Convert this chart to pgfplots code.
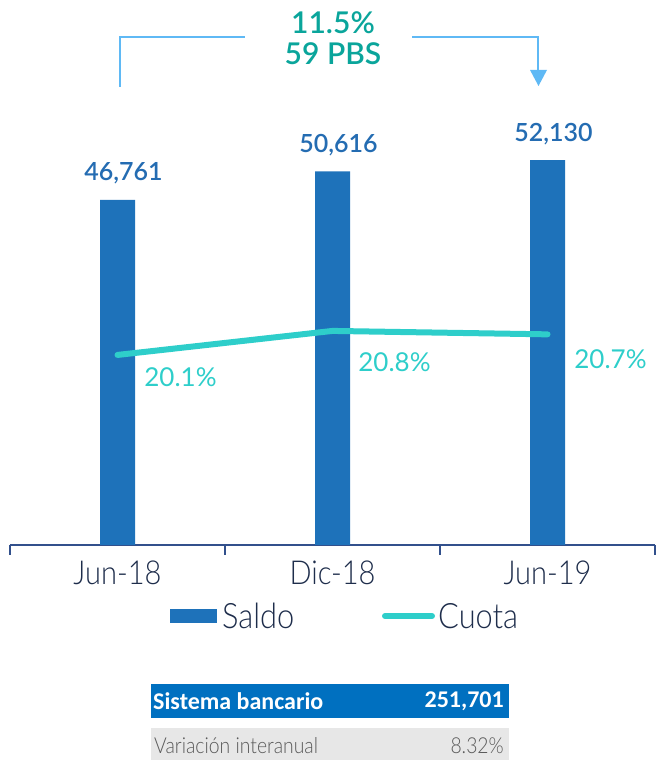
\documentclass[border=0pt]{standalone}
\usepackage{pgfplots}
\pgfplotsset{compat=1.18}
\usepackage{fontspec}
\setmainfont{Lato}
\IfFontExistsTF{Lato Light}{\newfontfamily\lightfont[FakeStretch=0.88]{Lato Light}}{\newfontfamily\lightfont[FakeStretch=0.88]{Lato}}
\IfFontExistsTF{Lato Semibold}{\newfontfamily\semifont{Lato Semibold}}{\newfontfamily\semifont{Lato}}
\newfontfamily\tabfont{Carlito}
\definecolor{barblue}{RGB}{30,114,186}
\definecolor{lblblue}{RGB}{36,108,178}
\definecolor{cuota}{RGB}{46,206,202}
\definecolor{tealc}{RGB}{10,165,155}
\definecolor{brk}{RGB}{95,185,245}
\definecolor{axisc}{RGB}{50,80,140}
\definecolor{navy}{RGB}{30,45,75}
\definecolor{hdr}{RGB}{0,112,192}
\definecolor{rowg}{RGB}{231,231,231}
\definecolor{txtg}{RGB}{90,90,90}
\begin{document}
\begin{tikzpicture}[x=1pt,y=1pt]
\useasboundingbox (0,0) rectangle (656,760);
\begin{axis}[at={(10pt,215pt)}, anchor=south west, scale only axis,
  width=645pt, height=505pt, xmin=-0.5, xmax=2.5, ymin=0, ymax=68400,
  clip=false, axis y line=none, axis x line*=bottom,
  x axis line style={-, draw=axisc, line width=2pt},
  xtick={0,1,2}, xticklabels={Jun-18,Dic-18,Jun-19},
  major tick length=0pt,
  xticklabel style={font=\lightfont\fontsize{33}{38}\selectfont, text=navy, yshift=-12pt}]
\addplot[ybar, bar width=35pt, fill=barblue, draw=none,
  nodes near coords, point meta=explicit symbolic,
  nodes near coords style={font=\semifont\fontsize{25}{30}\selectfont, text=lblblue, anchor=base, yshift=19pt, xshift=6pt}]
  coordinates {(0,46761)[46,761] (1,50616)[50,616] (2,52130)[52,130]};
\pgfplotsinvokeforeach{-0.5,0.5,1.5,2.5}{
  \draw[axisc, line width=1.5pt] (axis cs:#1,0) -- ++(0pt,-10pt);
}
\end{axis}
\begin{axis}[at={(10pt,215pt)}, anchor=south west, scale only axis,
  width=645pt, height=505pt, xmin=-0.5, xmax=2.5, ymin=14.56, ymax=29.28,
  clip=false, hide axis]
\addplot[cuota, line width=6pt, line cap=round] coordinates {(0,20.1) (1,20.8) (2,20.7)};
\node[text=cuota, font=\fontsize{26}{30}\selectfont, xshift=63pt, yshift=-22pt] at (axis cs:0,20.1) {20.1\%};
\node[text=cuota, font=\fontsize{26}{30}\selectfont, xshift=62pt, yshift=-31pt] at (axis cs:1,20.8) {20.8\%};
\node[text=cuota, font=\fontsize{26}{30}\selectfont, xshift=63pt, yshift=-25pt] at (axis cs:2,20.7) {20.7\%};
\end{axis}
% top annotation
\draw[brk, line width=2.5pt] (120,673) -- (120,723) -- (245,723);
\draw[brk, line width=2.5pt] (412,723) -- (538,723) -- (538,690);
\fill[brk] (530,690) -- (547,690) -- (538.5,674) -- cycle;
\node[text=tealc, font=\semifont\fontsize{30}{34}\selectfont] at (333,737) {11.5\%};
\node[text=tealc, font=\semifont\fontsize{30}{34}\selectfont] at (333,706) {59 PBS};
% legend
\fill[barblue] (170,137) rectangle (217,151);
\node[anchor=west, inner sep=0pt, text=navy, font=\lightfont\fontsize{35}{40}\selectfont] at (222,144) {Saldo};
\draw[cuota, line width=6pt, line cap=round] (385,144) -- (432,144);
\node[anchor=west, inner sep=0pt, text=navy, font=\lightfont\fontsize{35}{40}\selectfont] at (438,144) {Cuota};
% table
\fill[hdr] (151,42) rectangle (509,76);
\node[anchor=west, text=white, font=\tabfont\bfseries\fontsize{24}{28}\selectfont, inner sep=0pt] at (153,59) {Sistema bancario};
\node[anchor=east, text=white, font=\tabfont\bfseries\fontsize{24}{28}\selectfont, inner sep=0pt] at (504,59) {251,701};
\fill[rowg] (151,0) rectangle (509,32);
\node[anchor=west, text=txtg, font=\lightfont\fontsize{22}{26}\selectfont, inner sep=0pt] at (154,14) {Variación interanual};
\node[anchor=east, text=txtg, font=\lightfont\fontsize{22}{26}\selectfont, inner sep=0pt] at (504,14) {8.32\%};
\end{tikzpicture}
\end{document}
